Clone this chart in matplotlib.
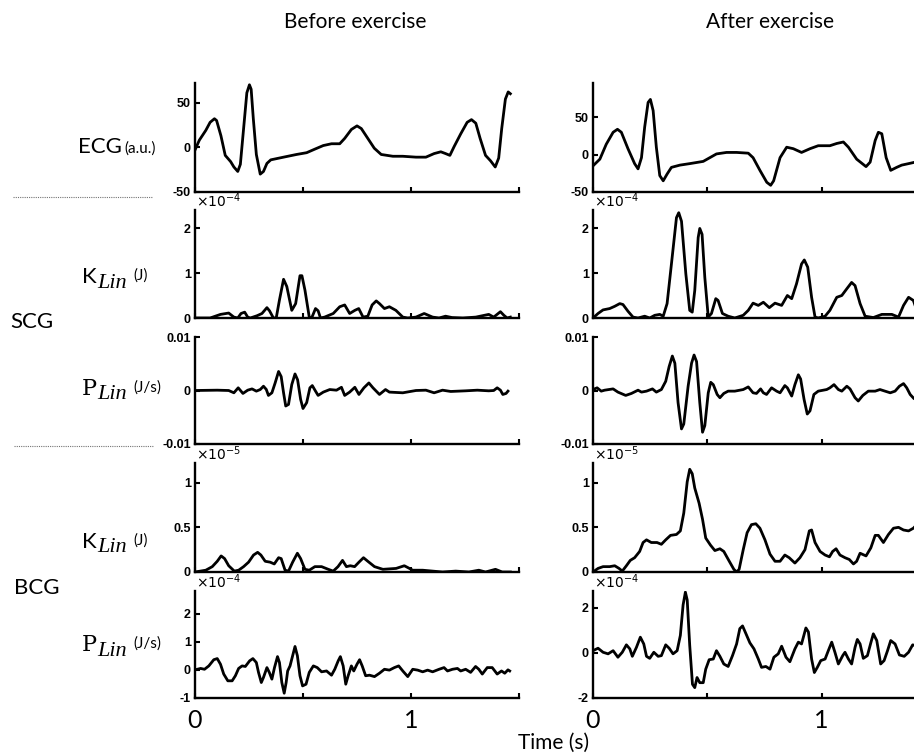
import numpy as np
import matplotlib.pyplot as plt

# ---- traces (time in s) ----
# ECG (a.u.)
ecg_pre_t = [0.00, 0.02, 0.05, 0.07, 0.09, 0.10, 0.12, 0.14, 0.165, 0.18, 0.198, 0.21, 0.225, 0.24, 0.252,
             0.26, 0.27, 0.284, 0.302, 0.317, 0.333, 0.351, 0.41, 0.47, 0.517, 0.555, 0.594, 0.632, 0.67,
             0.693, 0.724, 0.75, 0.77, 0.80, 0.83, 0.862, 0.916, 0.962, 1.023, 1.069, 1.107, 1.138, 1.16,
             1.18, 1.20, 1.23, 1.26, 1.28, 1.30, 1.32, 1.345, 1.368, 1.39, 1.406, 1.42, 1.437, 1.45, 1.46]
ecg_pre_v = [-3, 8, 19, 28, 32, 30, 13, -9, -16, -22, -27, -19, 21, 61, 70,
             65, 32, -8, -30, -27, -18, -14, -11, -8, -6, -2, 2, 4, 4,
             10, 20, 24, 21, 10, -1, -8, -10, -10, -11, -11, -7, -5, -7,
             -9, 1, 15, 28, 31, 27, 10, -9, -15, -22, -12, 21, 54, 62, 60]

ecg_post_t = [0.0, 0.03, 0.058, 0.088, 0.107, 0.124, 0.153, 0.182, 0.197, 0.212, 0.226, 0.241, 0.251, 0.263,
              0.277, 0.292, 0.307, 0.324, 0.343, 0.38, 0.423, 0.482, 0.511, 0.54, 0.584, 0.628, 0.679, 0.70,
              0.73, 0.76, 0.777, 0.79, 0.818, 0.847, 0.876, 0.912, 0.949, 0.985, 1.036, 1.066, 1.095, 1.117,
              1.153, 1.194, 1.212, 1.234, 1.248, 1.263, 1.282, 1.302, 1.328, 1.35, 1.38, 1.409, 1.45]
ecg_post_v = [-15, -6, 14, 30, 34, 30, 8, -12, -19, -4, 37, 70, 74, 59,
              10, -28, -35, -26, -17, -14, -12, -9, -4, 1, 3, 3, 2, -4,
              -21, -37, -41, -35, -4, 10, 8, 3, 8, 12, 12, 15, 17, 10,
              -6, -16, -10, 19, 30, 28, -4, -21, -17, -14, -12, -10, -9]

# SCG kinetic energy (x1e-4 J)
kscg_pre_t = [0, 0.07, 0.118, 0.156, 0.18, 0.198, 0.213, 0.23, 0.244, 0.256, 0.287, 0.31, 0.333, 0.345, 0.363,
              0.376, 0.391, 0.41, 0.425, 0.448, 0.466, 0.486, 0.495, 0.509, 0.529, 0.54, 0.558, 0.57, 0.581,
              0.60, 0.64, 0.67, 0.693, 0.716, 0.74, 0.758, 0.778, 0.80, 0.82, 0.839, 0.854, 0.877, 0.90, 0.93,
              0.962, 0.985, 1.023, 1.061, 1.10, 1.13, 1.16, 1.19, 1.24, 1.30, 1.36, 1.383, 1.414, 1.43, 1.445, 1.46]
kscg_pre_v = [0, 0, 0.08, 0.11, 0.02, 0, 0.10, 0.13, 0.02, 0, 0.05, 0.10, 0.23, 0.16, 0,
              0, 0.40, 0.86, 0.70, 0.17, 0.32, 0.94, 0.94, 0.62, 0.02, 0, 0.21, 0.16, 0,
              0.02, 0.10, 0.25, 0.29, 0.10, 0.17, 0.21, 0.02, 0.04, 0.29, 0.38, 0.32, 0.21, 0.25, 0.17,
              0.02, 0, 0.02, 0.10, 0.02, 0, 0.04, 0.01, 0, 0.02, 0.08, 0.02, 0.14, 0.06, 0, 0.02]

kscg_post_t = [0, 0.022, 0.044, 0.073, 0.095, 0.117, 0.131, 0.153, 0.175, 0.197, 0.226, 0.248, 0.27, 0.292,
               0.307, 0.324, 0.343, 0.365, 0.375, 0.387, 0.406, 0.423, 0.434, 0.445, 0.46, 0.467, 0.477, 0.489,
               0.504, 0.518, 0.537, 0.547, 0.566, 0.591, 0.62, 0.657, 0.679, 0.70, 0.723, 0.745, 0.771, 0.796,
               0.825, 0.85, 0.869, 0.89, 0.912, 0.924, 0.939, 0.956, 0.971, 0.985, 1.015, 1.036, 1.066, 1.088,
               1.11, 1.131, 1.146, 1.168, 1.19, 1.226, 1.263, 1.307, 1.336, 1.358, 1.38, 1.401, 1.416]
kscg_post_v = [0, 0.10, 0.18, 0.21, 0.26, 0.32, 0.30, 0.15, 0.02, 0, 0.04, 0, 0.06, 0.08,
               0.04, 0.32, 1.20, 2.23, 2.34, 2.15, 0.98, 0.17, 0.13, 0.61, 1.79, 1.99, 1.86, 0.90,
               0.02, 0.10, 0.43, 0.39, 0.10, 0.04, 0, 0.06, 0.17, 0.33, 0.28, 0.35, 0.23, 0.33,
               0.28, 0.50, 0.43, 0.76, 1.20, 1.29, 1.13, 0.46, 0.02, 0, 0.04, 0.17, 0.46, 0.50,
               0.65, 0.79, 0.72, 0.32, 0.04, 0.01, 0.08, 0.08, 0.02, 0.28, 0.46, 0.39, 0.17]

# SCG power (x1e-3 J/s)
pscg_pre_t = [0, 0.103, 0.156, 0.18, 0.20, 0.222, 0.244, 0.264, 0.284, 0.302, 0.317, 0.33, 0.34, 0.356, 0.371,
              0.387, 0.399, 0.41, 0.42, 0.433, 0.448, 0.463, 0.475, 0.489, 0.50, 0.517, 0.532, 0.543, 0.558,
              0.57, 0.594, 0.624, 0.655, 0.678, 0.693, 0.716, 0.74, 0.759, 0.782, 0.805, 0.824, 0.854, 0.882,
              0.90, 0.962, 1.023, 1.069, 1.107, 1.146, 1.184, 1.253, 1.307, 1.36, 1.383, 1.399, 1.414, 1.425,
              1.44, 1.449]
pscg_pre_v = [0, 0.06, 0, -0.43, 0.5, -0.55, 0.06, 0.3, -0.12, 0.18, 0.8, 0.2, -0.92, -0.43, 1.41,
              3.56, 2.6, -0.43, -2.9, -2.6, 1.1, 3.1, 2.0, -1.66, -3.37, -2.27, 0.5, 0.92, -0.12,
              -0.92, -0.3, 0.18, 0.06, 0.6, -0.92, -0.3, 0.6, -0.74, 0.5, 1.41, 0.5, -0.74, 0.18,
              -0.3, -0.43, 0, 0.06, -0.43, 0.06, -0.18, -0.06, 0.06, -0.06, 0, 0.5, 0.06, -0.74,
              -0.55, -0.12]

pscg_post_t = [0, 0.018, 0.036, 0.051, 0.088, 0.109, 0.143, 0.168, 0.197, 0.212, 0.234, 0.26, 0.277, 0.299,
               0.318, 0.333, 0.347, 0.358, 0.372, 0.387, 0.397, 0.416, 0.431, 0.442, 0.453, 0.467, 0.479,
               0.489, 0.504, 0.515, 0.526, 0.543, 0.555, 0.572, 0.591, 0.62, 0.657, 0.679, 0.70, 0.715,
               0.733, 0.745, 0.759, 0.781, 0.803, 0.818, 0.839, 0.85, 0.869, 0.883, 0.898, 0.908, 0.923,
               0.937, 0.949, 0.966, 0.985, 1.022, 1.036, 1.054, 1.073, 1.088, 1.11, 1.124, 1.146, 1.16,
               1.18, 1.204, 1.234, 1.255, 1.277, 1.30, 1.321, 1.34, 1.358, 1.372, 1.387, 1.404, 1.419]
pscg_post_v = [0.18, 0.5, -0.12, 0.06, 0.3, -0.3, -0.92, -0.55, 0.06, -0.3, -0.12, 0.3, -0.3, 0.18,
               1.72, 4.48, 6.44, 5.1, -2.27, -7.18, -6.26, 0.8, 5.1, 6.63, 5.4, -2.27, -7.8,
               -6.56, -0.43, 1.53, 1.1, -0.74, -1.35, -0.55, -0.12, -0.12, 0.18, 0.67, -0.43, -0.55,
               0.3, -0.43, -0.74, 0.5, -0.12, -0.43, 0.92, 0.5, -1.04, 1.1, 2.94, 2.15, -1.66,
               -4.4, -3.8, -0.74, -0.12, 0.18, 0.5, 1.1, 0.18, -0.12, 0.8, 0.3, -1.35, -1.96,
               -0.92, -0.12, -0.12, 0.18, -0.12, -0.43, -0.12, 0.8, 1.29, 0.5, -0.74, -1.53, -1.04]

# BCG kinetic energy (x1e-5 J)
kbcg_pre_t = [0, 0.05, 0.08, 0.103, 0.121, 0.137, 0.156, 0.182, 0.202, 0.225, 0.248, 0.271, 0.29, 0.305,
              0.325, 0.348, 0.367, 0.387, 0.399, 0.417, 0.433, 0.452, 0.474, 0.489, 0.509, 0.529, 0.555,
              0.586, 0.617, 0.64, 0.662, 0.683, 0.701, 0.719, 0.739, 0.759, 0.78, 0.80, 0.831, 0.87, 0.931,
              0.969, 0.985, 1.008, 1.054, 1.10, 1.146, 1.207, 1.268, 1.314, 1.345, 1.391, 1.422, 1.46]
kbcg_pre_v = [0, 0.02, 0.06, 0.12, 0.18, 0.15, 0.07, 0.01, 0.02, 0.06, 0.11, 0.19, 0.22, 0.19,
              0.12, 0.11, 0.09, 0.16, 0.15, 0.02, 0.01, 0.11, 0.21, 0.15, 0.03, 0.02, 0.06,
              0.06, 0.03, 0.01, 0.06, 0.13, 0.06, 0.07, 0.06, 0.11, 0.16, 0.12, 0.06, 0.03, 0.04,
              0.07, 0.05, 0.02, 0.02, 0.01, 0.0, 0.01, 0.0, 0.02, 0.0, 0.03, 0.0, 0.0]

kbcg_post_t = [0, 0.022, 0.044, 0.073, 0.095, 0.114, 0.128, 0.146, 0.163, 0.182, 0.204, 0.219, 0.234, 0.255,
               0.28, 0.299, 0.318, 0.339, 0.365, 0.382, 0.397, 0.412, 0.423, 0.434, 0.445, 0.464, 0.479,
               0.493, 0.514, 0.533, 0.555, 0.572, 0.596, 0.616, 0.628, 0.639, 0.657, 0.674, 0.693, 0.712,
               0.73, 0.752, 0.774, 0.796, 0.818, 0.839, 0.858, 0.883, 0.905, 0.927, 0.946, 0.956, 0.971,
               0.993, 1.015, 1.034, 1.048, 1.063, 1.08, 1.102, 1.121, 1.139, 1.153, 1.168, 1.194, 1.215,
               1.234, 1.248, 1.27, 1.292, 1.314, 1.336, 1.358, 1.38, 1.401, 1.416]
kbcg_post_v = [0, 0.04, 0.06, 0.06, 0.07, 0.04, 0.01, 0.07, 0.13, 0.16, 0.23, 0.33, 0.36, 0.33,
               0.33, 0.31, 0.36, 0.41, 0.42, 0.46, 0.66, 1.01, 1.15, 1.10, 0.94, 0.77, 0.59,
               0.38, 0.30, 0.24, 0.26, 0.23, 0.12, 0.03, 0.0, 0.03, 0.25, 0.44, 0.53, 0.54,
               0.49, 0.36, 0.20, 0.12, 0.12, 0.19, 0.16, 0.10, 0.16, 0.25, 0.46, 0.47, 0.33,
               0.23, 0.19, 0.17, 0.23, 0.26, 0.19, 0.16, 0.14, 0.09, 0.12, 0.21, 0.18, 0.27,
               0.41, 0.41, 0.33, 0.42, 0.49, 0.50, 0.47, 0.46, 0.49, 0.53]

# BCG power (x1e-4 J/s)
pbcg_pre_t = [0, 0.026, 0.044, 0.064, 0.087, 0.103, 0.118, 0.133, 0.152, 0.172, 0.187, 0.202, 0.218, 0.233,
              0.253, 0.268, 0.284, 0.294, 0.307, 0.317, 0.333, 0.344, 0.356, 0.368, 0.382, 0.391, 0.402,
              0.413, 0.422, 0.429, 0.44, 0.452, 0.463, 0.474, 0.486, 0.498, 0.514, 0.529, 0.548, 0.566,
              0.586, 0.609, 0.632, 0.647, 0.663, 0.673, 0.686, 0.698, 0.709, 0.724, 0.735, 0.75, 0.762,
              0.774, 0.79, 0.808, 0.831, 0.854, 0.877, 0.90, 0.923, 0.943, 0.962, 0.985, 1.008, 1.031,
              1.054, 1.077, 1.10, 1.13, 1.153, 1.169, 1.192, 1.215, 1.23, 1.253, 1.276, 1.299, 1.314,
              1.33, 1.353, 1.376, 1.399, 1.419, 1.434, 1.449, 1.457]
pbcg_pre_v = [0, 0.05, 0.02, 0.14, 0.36, 0.40, 0.20, -0.15, -0.39, -0.39, -0.21, 0.05, 0.14, 0.12,
              0.32, 0.40, 0.26, -0.09, -0.45, -0.27, 0.08, -0.09, -0.33, 0.08, 0.47, 0.26, -0.45,
              -0.83, -0.45, -0.04, 0.14, 0.50, 0.83, 0.50, -0.21, -0.57, -0.51, -0.09, 0.14, 0.08,
              -0.07, -0.04, -0.19, 0.02, 0.32, 0.47, 0.14, -0.51, -0.21, 0.14, -0.04, 0.20, 0.36,
              0.14, -0.21, -0.19, -0.24, -0.12, 0.02, -0.01, 0.08, 0.14, -0.04, -0.24, 0.02, -0.01,
              -0.07, -0.01, -0.07, 0.02, 0.08, -0.04, 0.02, 0.05, -0.04, 0.02, -0.09, 0.12, 0.02,
              -0.15, 0.08, 0.08, -0.15, -0.04, -0.12, 0, -0.04]

pbcg_post_t = [0, 0.022, 0.044, 0.066, 0.088, 0.109, 0.128, 0.146, 0.161, 0.172, 0.19, 0.207, 0.222, 0.234,
               0.248, 0.266, 0.285, 0.299, 0.318, 0.333, 0.35, 0.368, 0.382, 0.394, 0.404, 0.412, 0.423,
               0.435, 0.445, 0.455, 0.467, 0.482, 0.493, 0.508, 0.526, 0.54, 0.555, 0.572, 0.591, 0.61,
               0.628, 0.642, 0.654, 0.669, 0.686, 0.704, 0.723, 0.737, 0.756, 0.774, 0.791, 0.81, 0.825,
               0.844, 0.861, 0.883, 0.898, 0.912, 0.931, 0.942, 0.956, 0.968, 0.981, 0.996, 1.015, 1.029,
               1.044, 1.058, 1.073, 1.092, 1.102, 1.117, 1.131, 1.146, 1.156, 1.168, 1.182, 1.20, 1.215,
               1.226, 1.241, 1.258, 1.273, 1.288, 1.302, 1.321, 1.34, 1.361, 1.38, 1.398, 1.416]
pbcg_post_v = [0.10, 0.21, 0.03, -0.04, 0.10, -0.19, 0.03, 0.36, 0.18, -0.15, 0.25, 0.70, 0.40, -0.15,
               -0.24, 0.03, -0.15, -0.12, 0.36, 0.21, -0.04, 0.10, 0.78, 2.13, 2.70, 2.35, 0.33,
               -1.39, -1.54, -1.09, -1.32, -1.32, -0.72, -0.30, -0.27, 0.10, -0.15, -0.49, -0.60, -0.12,
               0.40, 1.08, 1.20, 0.85, 0.45, 0.18, -0.27, -0.64, -0.60, -0.72, -0.19, -0.04, 0.30,
               -0.19, -0.39, 0.18, 0.48, 0.40, 1.11, 0.93, -0.27, -0.87, -0.64, -0.34, -0.27, 0.10,
               0.48, 0.03, -0.49, -0.12, 0.03, -0.27, -0.49, 0.25, 0.60, 0.40, -0.24, -0.12, 0.45,
               0.85, 0.55, -0.49, -0.34, 0.10, 0.55, 0.40, -0.09, -0.15, 0.03, 0.36, 0.30]

# ---- axis settings ----
col_titles = ["Before exercise", "After exercise"]
xticks = [0, 0.5, 1, 1.5]
xticklabels = ["0", "", "1", ""]

ylims = [[(-50, 72), (-50, 96)],
         [(0, 2.4), (0, 2.4)],
         [(-0.01, 0.01), (-0.01, 0.01)],
         [(0, 1.22), (0, 1.22)],
         [(-1, 2.8), (-2, 2.75)]]
yticks = [[[-50, 0, 50], [-50, 0, 50]],
          [[0, 1, 2], [0, 1, 2]],
          [[-0.01, 0, 0.01], [-0.01, 0, 0.01]],
          [[0, 0.5, 1], [0, 0.5, 1]],
          [[-1, 0, 1, 2], [-2, 0, 2]]]
yticklabels = [[["-50", "0", "50"], ["-50", "0", "50"]],
               [["0", "1", "2"], ["0", "1", "2"]],
               [["-0.01", "0", "0.01"], ["-0.01", "0", "0.01"]],
               [["0", "0.5", "1"], ["0", "0.5", "1"]],
               [["-1", "0", "1", "2"], ["-2", "0", "2"]]]
exponents = [None, r"$\times10^{-4}$", None, r"$\times10^{-5}$", r"$\times10^{-4}$"]

traces = [[(ecg_pre_t, ecg_pre_v, 1), (ecg_post_t, ecg_post_v, 1)],
          [(kscg_pre_t, kscg_pre_v, 1), (kscg_post_t, kscg_post_v, 1)],
          [(pscg_pre_t, pscg_pre_v, 1e-3), (pscg_post_t, pscg_post_v, 1e-3)],
          [(kbcg_pre_t, kbcg_pre_v, 1), (kbcg_post_t, kbcg_post_v, 1)],
          [(pbcg_pre_t, pbcg_pre_v, 1), (pbcg_post_t, pbcg_post_v, 1)]]

W, H = 914, 756
fig = plt.figure(figsize=(W / 100, H / 100), dpi=100)

def fx(x):
    return x / W

def fy(y):
    return 1 - y / H

col_px = [(195, 519), (593, 936)]
row_px = [(83, 192), (210, 318), (337, 444), (463, 572), (591, 698)]

tick_font = dict(family="Liberation Sans", weight="bold", size=9)
label_font = "Lato"

for r in range(5):
    for c in range(2):
        x0, x1 = col_px[c]
        top, bot = row_px[r]
        ax = fig.add_axes([fx(x0), fy(bot), (x1 - x0) / W, (bot - top) / H])
        t, v, s = traces[r][c]
        ax.plot(t, np.array(v) * s, color="black", lw=2.0, solid_joinstyle="round")
        ax.set_xlim(0, 1.5)
        ax.set_ylim(*ylims[r][c])
        ax.spines["top"].set_visible(False)
        ax.spines["right"].set_visible(False)
        ax.spines["left"].set_linewidth(1.7)
        ax.spines["bottom"].set_linewidth(1.7)
        ax.tick_params(direction="in", length=3.5, width=1.5, pad=3)
        ax.set_yticks(yticks[r][c])
        ax.set_yticklabels(yticklabels[r][c], **tick_font)
        ax.set_xticks(xticks)
        if r == 4:
            ax.set_xticklabels(xticklabels, family=label_font, size=18)
            ax.tick_params(axis="x", pad=8)
        else:
            ax.set_xticklabels([])
        if exponents[r]:
            fig.text(fx(x0 + 1), fy(top - 9), exponents[r], fontsize=10, ha="left", va="center",
                     family="DejaVu Sans")

# column titles
fig.text(fx(355), fy(22), col_titles[0], family=label_font, size=15, ha="center", va="center")
fig.text(fx(770), fy(22), col_titles[1], family=label_font, size=15, ha="center", va="center")
fig.text(fx(554), fy(743), "Time (s)", family=label_font, size=15, ha="center", va="center")

# row labels
fig.text(fx(78), fy(147), "ECG", family=label_font, size=16, ha="left", va="center")
fig.text(fx(124), fy(149), "(a.u.)", family=label_font, size=11, ha="left", va="center")

for y, main, unit, serif in [(277, "K", "(J)", False), (389, "P", "(J/s)", True),
                             (542, "K", "(J)", False), (645, "P", "(J/s)", True)]:
    fam = "DejaVu Serif" if serif else label_font
    fig.text(fx(82), fy(y), main, family=fam, size=16, ha="left", va="center")
    fig.text(fx(97), fy(y + 6), "Lin", family="Liberation Serif", style="italic", size=16,
             ha="left", va="center")
    fig.text(fx(133), fy(y - 1), unit, family=label_font, size=11, ha="left", va="center")

fig.text(fx(10), fy(322), "SCG", family=label_font, size=16, ha="left", va="center")
fig.text(fx(14), fy(588), "BCG", family=label_font, size=16, ha="left", va="center")

# separators
fig.add_artist(plt.Line2D([fx(13), fx(152)], [fy(197), fy(197)], color="0.45", lw=0.8,
                          ls=(0, (1, 1))))
fig.add_artist(plt.Line2D([fx(14), fx(153)], [fy(446), fy(446)], color="0.45", lw=0.8,
                          ls=(0, (1, 1))))

fig.savefig("out.png", dpi=100)
